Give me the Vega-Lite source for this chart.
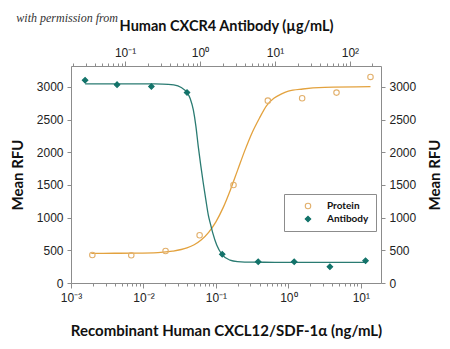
{
  "$schema": "https://vega.github.io/schema/vega-lite/v6.json",
  "width": 310,
  "height": 217,
  "autosize": {"type": "none"},
  "padding": {"left": 71, "top": 66, "right": 69, "bottom": 66},
  "background": "white",
  "config": {
    "view": {"stroke": null},
    "axis": {
      "grid": false,
      "domainColor": "#8c8c8c",
      "tickColor": "#8c8c8c",
      "labelFont": "Liberation Sans, sans-serif",
      "labelFontSize": 12,
      "labelColor": "#222222",
      "titleFont": "Lato, sans-serif",
      "titleFontSize": 15,
      "titleFontWeight": "bold",
      "titleColor": "#111111"
    },
    "legend": {
      "orient": "none",
      "legendX": 213,
      "legendY": 128,
      "direction": "vertical",
      "padding": 7,
      "strokeColor": "#8c8c8c",
      "fillColor": "white",
      "labelFont": "Lato, sans-serif",
      "labelFontSize": 10,
      "labelFontWeight": "bold",
      "labelColor": "#111111",
      "symbolSize": 30,
      "symbolStrokeWidth": 1.1,
      "rowPadding": 3,
      "labelOffset": 14
    }
  },
  "title": {
    "text": "with permission from",
    "anchor": "start",
    "frame": "bounds",
    "font": "Liberation Serif, DejaVu Serif, serif",
    "fontStyle": "italic",
    "fontWeight": "normal",
    "fontSize": 12,
    "color": "#333333",
    "dx": 6,
    "dy": 11
  },
  "datasets": {
    "proteinFit": [
      {"c": 0.001905, "rfu": 454}, {"c": 0.003981, "rfu": 455}, {"c": 0.007943, "rfu": 457},
      {"c": 0.01585, "rfu": 466}, {"c": 0.02512, "rfu": 487}, {"c": 0.03981, "rfu": 537},
      {"c": 0.05012, "rfu": 586}, {"c": 0.0631, "rfu": 662}, {"c": 0.07943, "rfu": 775},
      {"c": 0.1, "rfu": 936}, {"c": 0.1259, "rfu": 1153}, {"c": 0.1585, "rfu": 1424},
      {"c": 0.1995, "rfu": 1727}, {"c": 0.2512, "rfu": 2029}, {"c": 0.3162, "rfu": 2300},
      {"c": 0.3981, "rfu": 2520}, {"c": 0.5012, "rfu": 2715}, {"c": 0.631, "rfu": 2825},
      {"c": 0.7943, "rfu": 2890}, {"c": 1, "rfu": 2935}, {"c": 1.585, "rfu": 2968},
      {"c": 3.162, "rfu": 2992}, {"c": 13.61, "rfu": 3005}
    ],
    "proteinObs": [
      {"c": 0.00197, "rfu": 428, "series": "Protein"},
      {"c": 0.00679, "rfu": 424, "series": "Protein"},
      {"c": 0.0202, "rfu": 490, "series": "Protein"},
      {"c": 0.0596, "rfu": 730, "series": "Protein"},
      {"c": 0.175, "rfu": 1500, "series": "Protein"},
      {"c": 0.521, "rfu": 2790, "series": "Protein"},
      {"c": 1.55, "rfu": 2827, "series": "Protein"},
      {"c": 4.62, "rfu": 2913, "series": "Protein"},
      {"c": 13.6, "rfu": 3153, "series": "Protein"}
    ],
    "antibodyFit": [
      {"c": 0.0293, "rfu": 3046}, {"c": 0.1585, "rfu": 3046}, {"c": 0.3162, "rfu": 3044},
      {"c": 0.4467, "rfu": 3030}, {"c": 0.5623, "rfu": 2990}, {"c": 0.6714, "rfu": 2915},
      {"c": 0.7413, "rfu": 2820}, {"c": 0.8147, "rfu": 2648}, {"c": 0.8810, "rfu": 2400},
      {"c": 0.9484, "rfu": 2086}, {"c": 1.0233, "rfu": 1800}, {"c": 1.1066, "rfu": 1526},
      {"c": 1.1940, "rfu": 1280}, {"c": 1.2912, "rfu": 1040}, {"c": 1.3804, "rfu": 900},
      {"c": 1.4757, "rfu": 770}, {"c": 1.6711, "rfu": 580}, {"c": 1.9815, "rfu": 430},
      {"c": 2.5119, "rfu": 350}, {"c": 3.1623, "rfu": 328}, {"c": 5.0119, "rfu": 318},
      {"c": 10, "rfu": 317}, {"c": 161.8, "rfu": 317}
    ],
    "antibodyObs": [
      {"c": 0.0293, "rfu": 3102, "series": "Antibody"},
      {"c": 0.0782, "rfu": 3035, "series": "Antibody"},
      {"c": 0.2244, "rfu": 3005, "series": "Antibody"},
      {"c": 0.671, "rfu": 2913, "series": "Antibody"},
      {"c": 1.98, "rfu": 439, "series": "Antibody"},
      {"c": 5.98, "rfu": 326, "series": "Antibody"},
      {"c": 18.07, "rfu": 326, "series": "Antibody"},
      {"c": 54.1, "rfu": 250, "series": "Antibody"},
      {"c": 161.8, "rfu": 341, "series": "Antibody"}
    ]
  },
  "layer": [
    {
      "encoding": {
        "x": {
          "field": "c", "type": "quantitative",
          "scale": {"type": "log", "domain": [0.001, 19], "nice": false},
          "axis": {
            "orient": "bottom",
            "title": "Recombinant Human CXCL12/SDF-1α (ng/mL)",
            "values": [0.001,0.002,0.003,0.004,0.005,0.006,0.007,0.008,0.009,0.01,0.02,0.03,0.04,0.05,0.06,0.07,0.08,0.09,0.1,0.2,0.3,0.4,0.5,0.6,0.7,0.8,0.9,1,2,3,4,5,6,7,8,9,10],
            "labelExpr": "datum.value == 0.001 ? '10⁻³' : datum.value == 0.01 ? '10⁻²' : datum.value == 0.1 ? '10⁻¹' : datum.value == 1 ? '10⁰' : datum.value == 10 ? '10¹' : ''",
            "tickSize": {"condition": {"test": "indexof([0.001,0.01,0.1,1,10], datum.value) >= 0", "value": 5}, "value": 3},
            "labelOverlap": false,
            "labelFlush": false,
            "labelPadding": 4,
            "titlePadding": 20
          }
        },
        "y": {
          "field": "rfu", "type": "quantitative",
          "scale": {"domain": [0, 3320], "nice": false},
          "axis": {
            "orient": "left",
            "title": "Mean RFU",
            "format": "d",
            "values": [0, 500, 1000, 1500, 2000, 2500, 3000],
            "tickSize": 4,
            "labelPadding": 4,
            "titlePadding": 11
          }
        }
      },
      "layer": [
        {
          "data": {"name": "proteinFit"},
          "mark": {"type": "line", "color": "#E3A23E", "strokeWidth": 1.3, "interpolate": "monotone"}
        },
        {
          "data": {"name": "proteinObs"},
          "mark": {"type": "point", "strokeWidth": 1.1, "opacity": 1},
          "encoding": {
            "stroke": {"field": "series", "type": "nominal", "scale": {"domain": ["Protein", "Antibody"], "range": ["#E2B06C", "#13736A"]}, "legend": {"title": null, "symbolOffset": 12}},
            "fill": {"field": "series", "type": "nominal", "scale": {"domain": ["Protein", "Antibody"], "range": ["transparent", "#13736A"]}, "legend": {"title": null, "symbolOffset": 12}},
            "shape": {"field": "series", "type": "nominal", "scale": {"domain": ["Protein", "Antibody"], "range": ["circle", "diamond"]}, "legend": {"title": null, "symbolOffset": 12}},
            "size": {"value": 30}
          }
        }
      ]
    },
    {
      "encoding": {
        "x": {
          "field": "c", "type": "quantitative",
          "scale": {"type": "log", "domain": [0.019, 260], "nice": false},
          "axis": {
            "orient": "top",
            "title": "Human CXCR4 Antibody (µg/mL)",
            "titleFontSize": 14.5,
            "values": [0.02,0.03,0.04,0.05,0.06,0.07,0.08,0.09,0.1,0.2,0.3,0.4,0.5,0.6,0.7,0.8,0.9,1,2,3,4,5,6,7,8,9,10,20,30,40,50,60,70,80,90,100,200],
            "labelExpr": "datum.value == 0.1 ? '10⁻¹' : datum.value == 1 ? '10⁰' : datum.value == 10 ? '10¹' : datum.value == 100 ? '10²' : ''",
            "tickSize": {"condition": {"test": "indexof([0.1,1,10,100], datum.value) >= 0", "value": 5}, "value": 3},
            "labelOverlap": false,
            "labelFlush": false,
            "labelPadding": 2,
            "titlePadding": 13
          }
        },
        "y": {
          "field": "rfu", "type": "quantitative",
          "scale": {"domain": [0, 3320], "nice": false},
          "axis": {
            "orient": "right",
            "title": "Mean RFU",
            "titleAngle": 270,
            "format": "d",
            "values": [0, 500, 1000, 1500, 2000, 2500, 3000],
            "tickSize": 4,
            "labelPadding": 4,
            "titlePadding": 27
          }
        }
      },
      "layer": [
        {
          "data": {"name": "antibodyFit"},
          "mark": {"type": "line", "color": "#2A7B72", "strokeWidth": 1.3, "interpolate": "monotone"}
        },
        {
          "data": {"name": "antibodyObs"},
          "mark": {"type": "point", "strokeWidth": 1.1, "opacity": 1},
          "encoding": {
            "stroke": {"field": "series", "type": "nominal", "scale": {"domain": ["Protein", "Antibody"], "range": ["#E2B06C", "#13736A"]}, "legend": {"title": null, "symbolOffset": 12}},
            "fill": {"field": "series", "type": "nominal", "scale": {"domain": ["Protein", "Antibody"], "range": ["transparent", "#13736A"]}, "legend": {"title": null, "symbolOffset": 12}},
            "shape": {"field": "series", "type": "nominal", "scale": {"domain": ["Protein", "Antibody"], "range": ["circle", "diamond"]}, "legend": {"title": null, "symbolOffset": 12}},
            "size": {"value": 30}
          }
        }
      ]
    }
  ],
  "resolve": {"scale": {"x": "independent"}, "axis": {"x": "independent", "y": "independent"}}
}
